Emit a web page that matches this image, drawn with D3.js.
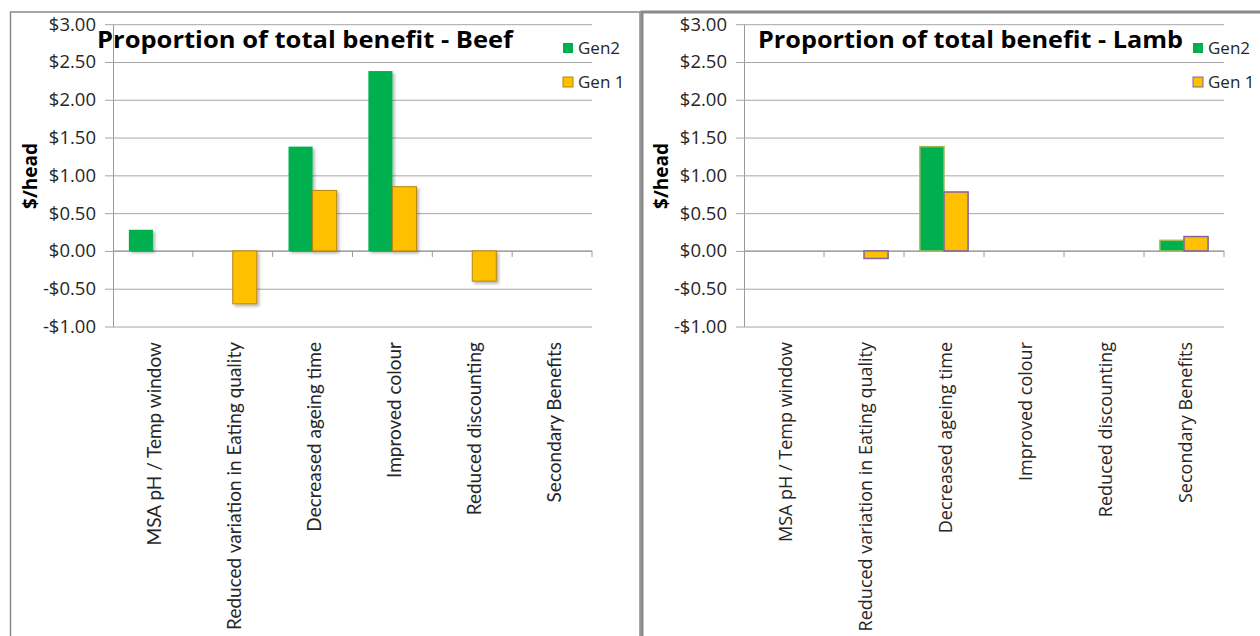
<!DOCTYPE html>
<html>
<head>
<meta charset="utf-8">
<script src="https://cdn.jsdelivr.net/npm/d3@7/dist/d3.min.js"></script>
<style>
  html, body { margin: 0; padding: 0; background: #fff; }
  svg { display: block; }
  text { font-family: "Open Sans", "Liberation Sans", sans-serif; }
</style>
</head>
<body>
<svg id="chart" width="1260" height="636"></svg>
<script>
// Benefit categories shared by both panels
const categories = [
  "MSA pH / Temp window",
  "Reduced variation in Eating quality",
  "Decreased ageing time",
  "Improved colour",
  "Reduced discounting",
  "Secondary Benefits"
];
const seriesNames = ["Gen2", "Gen 1"];

// $/head values (null = no bar)
const beefGen2 = [0.28, null, 1.38, 2.38, null, null];
const beefGen1 = [null, -0.70, 0.80, 0.85, -0.40, null];
const lambGen2 = [null, null, 1.38, null, null, 0.14];
const lambGen1 = [null, -0.10, 0.78, null, null, 0.19];

// Value axis ticks
const yTicks = [-1, -0.5, 0, 0.5, 1, 1.5, 2, 2.5, 3];

const svg = d3.select("#chart");
const fmt = v => (v < 0 ? "-$" : "$") + Math.abs(v).toFixed(2);

const defs = svg.append("defs");
const shadow = defs.append("filter").attr("id", "barShadow")
  .attr("x", "-20%").attr("y", "-20%").attr("width", "150%").attr("height", "150%");
shadow.append("feDropShadow").attr("dx", 2).attr("dy", 2)
  .attr("stdDeviation", 1.5).attr("flood-color", "#000").attr("flood-opacity", 0.3);

function panel(cfg) {
  const g = svg.append("g");

  // chart frame
  g.append("rect")
    .attr("x", cfg.frame[0]).attr("y", 12)
    .attr("width", cfg.frame[1] - cfg.frame[0]).attr("height", 700)
    .attr("fill", "#fff").attr("stroke", "#8a8a8a").attr("stroke-width", cfg.frameW);

  const x0 = d3.scaleBand().domain(categories).range([cfg.left, cfg.right]).padding(0);
  const x1 = d3.scaleBand().domain(seriesNames).range([0, x0.bandwidth()])
    .paddingInner(0).paddingOuter(0.66);
  const y = d3.scaleLinear().domain([-1, 3]).range([326.5, 24.2]);

  // value axis with gridlines
  const yAxis = d3.axisLeft(y).tickValues(yTicks).tickFormat(fmt)
    .tickSizeInner(-(cfg.right - cfg.left)).tickSizeOuter(0).tickPadding(10);
  const ya = g.append("g").attr("transform", `translate(${cfg.left},0)`).call(yAxis);
  ya.select(".domain").attr("stroke", "#9a9a9a");
  ya.selectAll(".tick line").attr("stroke", "#a6a6a6").attr("x1", -8);
  ya.selectAll(".tick text")
    .attr("x", -17)
    .attr("font-size", 18.5).attr("fill", "#262626")
    .style("font-family", "'Open Sans', sans-serif");

  // category axis crossing at zero
  const xa = g.append("g").attr("transform", `translate(0,${y(0)})`);
  xa.append("line").attr("x1", cfg.left).attr("x2", cfg.right)
    .attr("stroke", "#9a9a9a");
  const bounds = categories.map(c => x0(c) + x0.bandwidth());
  xa.selectAll("line.tk").data(bounds).join("line").attr("class", "tk")
    .attr("x1", d => d).attr("x2", d => d).attr("y1", 0).attr("y2", 6)
    .attr("stroke", "#9a9a9a");

  // category labels (rotated)
  g.selectAll("text.cat").data(categories).join("text").attr("class", "cat")
    .attr("transform", d => `translate(${x0(d) + x0.bandwidth() / 2 + 1},342) rotate(-90)`)
    .attr("text-anchor", "end").attr("dominant-baseline", "central")
    .attr("font-size", cfg.catSize).attr("fill", "#262626")
    .style("font-family", cfg.catFont)
    .text(d => d);

  // bars
  const rows = [];
  categories.forEach((c, i) => {
    [[seriesNames[0], cfg.gen2[i]], [seriesNames[1], cfg.gen1[i]]].forEach(([s, v]) => {
      if (v !== null) rows.push({ c, s, v });
    });
  });
  g.selectAll("rect.bar").data(rows).join("rect").attr("class", "bar")
    .attr("x", d => x0(d.c) + x1(d.s))
    .attr("width", x1.bandwidth())
    .attr("y", d => y(Math.max(0, d.v)))
    .attr("height", d => Math.abs(y(d.v) - y(0)))
    .attr("fill", d => d.s === "Gen2" ? "#00b050" : "#ffc000")
    .attr("stroke", d => d.s === "Gen2" ? cfg.stroke2 : cfg.stroke1)
    .attr("stroke-width", cfg.barStrokeW)
    .attr("filter", cfg.shadow ? "url(#barShadow)" : null);

  // title
  g.append("text")
    .attr("x", cfg.titleX).attr("y", 48)
    .attr("font-size", 23).attr("font-weight", 700).attr("fill", "#000")
    .attr("textLength", cfg.titleW).attr("lengthAdjust", "spacingAndGlyphs")
    .text(cfg.title);

  // y-axis title
  g.append("text")
    .attr("transform", `translate(${cfg.yTitleX},176) rotate(-90)`)
    .attr("text-anchor", "middle").attr("dominant-baseline", "central")
    .attr("font-size", 19).attr("font-weight", 700).attr("fill", "#000")
    .text("$/head");

  // legend
  const lg = g.append("g").attr("transform", `translate(${cfg.legendX},0)`);
  seriesNames.forEach((s, i) => {
    const yy = 43 + i * 34;
    lg.append("rect").attr("x", 0).attr("y", yy).attr("width", 10).attr("height", 10)
      .attr("fill", i === 0 ? "#00b050" : "#ffc000")
      .attr("stroke", i === 0 ? "none" : cfg.legendStroke).attr("stroke-width", 1);
    lg.append("text").attr("x", 15).attr("y", yy + 11)
      .attr("font-size", 17).attr("fill", "#262626").text(s);
  });
}

panel({
  frame: [10.5, 640], frameW: 1.5,
  left: 113, right: 592,
  gen2: beefGen2, gen1: beefGen1,
  stroke2: "none", stroke1: "#b8860b", barStrokeW: 1, shadow: true,
  title: "Proportion of total benefit - Beef", titleX: 97, titleW: 416,
  yTitleX: 30, legendX: 563, legendStroke: "#b8860b",
  catSize: 19, catFont: "Lato, sans-serif"
});

panel({
  frame: [642, 1300], frameW: 3,
  left: 744, right: 1224,
  gen2: lambGen2, gen1: lambGen1,
  stroke2: "#9bbb59", stroke1: "#8064a2", barStrokeW: 1.5, shadow: false,
  title: "Proportion of total benefit - Lamb", titleX: 758, titleW: 425,
  yTitleX: 661, legendX: 1193, legendStroke: "#8064a2",
  catSize: 18, catFont: "'Open Sans', sans-serif"
});
</script>
</body>
</html>
